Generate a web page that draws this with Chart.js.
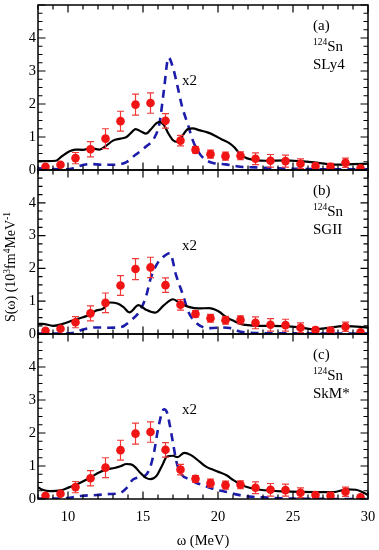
<!DOCTYPE html>
<html><head><meta charset="utf-8">
<script src="https://cdn.jsdelivr.net/npm/chart.js@4.4.1/dist/chart.umd.min.js"></script>
<style>
html,body{margin:0;padding:0;background:#fff;}
#wrap{position:relative;width:379px;height:550px;overflow:hidden;}
canvas{position:absolute;left:0;top:0;}
</style></head><body>
<div id="wrap">
<canvas id="ca" width="379" height="550"></canvas>
<canvas id="cb" width="379" height="550"></canvas>
<canvas id="cc" width="379" height="550"></canvas>
</div>
<script>
// ---- data ----
const xTicks = [10, 15, 20, 25, 30];
const yTicks = [0, 1, 2, 3, 4];
const panelTags = ['(a)', '(b)', '(c)'];
const modelNames = ['SLy4', 'SGII', 'SkM*'];
const massNumber = '124';
const nucleus = 'Sn';
const factorLabel = 'x2';
const xTitle = 'ω (MeV)';

// experimental strength (same in all panels)
const expE   = [8.5, 9.5, 10.5, 11.5, 12.5, 13.5, 14.5, 15.5, 16.5, 17.5, 18.5, 19.5, 20.5, 21.5, 22.5, 23.5, 24.5, 25.5, 26.5, 27.5, 28.5, 29.5];
const expS   = [0.10, 0.16, 0.36, 0.63, 0.95, 1.48, 1.98, 2.03, 1.49, 0.89, 0.61, 0.48, 0.42, 0.43, 0.34, 0.28, 0.27, 0.19, 0.12, 0.10, 0.22, 0.05];
const expErr = [0.05, 0.05, 0.17, 0.23, 0.30, 0.30, 0.32, 0.31, 0.22, 0.16, 0.10, 0.12, 0.12, 0.12, 0.18, 0.19, 0.18, 0.15, 0.08, 0.10, 0.14, 0.04];

// (a) SLy4
const aSolidE = [8.0, 8.6, 9.2, 9.6, 10.1, 10.5, 11.0, 11.5, 12.1, 12.5, 13.0, 13.5, 13.9, 14.3, 14.5, 14.9, 15.2, 15.5, 15.9, 16.1, 16.4, 16.7, 17.0, 17.3, 17.6, 18.0, 18.3, 18.8, 19.3, 19.8, 20.2, 20.8, 21.1, 21.5, 21.9, 22.5, 23.2, 24.5, 25.4, 26.4, 27.3, 28.2, 29.0, 30.0];
const aSolidS = [0.27, 0.27, 0.28, 0.42, 0.57, 0.62, 0.61, 0.66, 0.62, 0.72, 0.89, 0.95, 1.00, 1.17, 1.24, 1.16, 1.10, 1.22, 1.42, 1.46, 1.36, 1.10, 0.90, 0.85, 1.02, 1.24, 1.26, 1.20, 1.14, 1.04, 0.94, 0.80, 0.68, 0.47, 0.36, 0.30, 0.28, 0.29, 0.27, 0.23, 0.18, 0.16, 0.18, 0.19];
const aDashE  = [8.0, 9.0, 10.0, 10.5, 11.0, 11.5, 12.3, 13.2, 13.9, 14.5, 15.2, 15.75, 16.1, 16.4, 16.7, 17.0, 17.3, 17.6, 18.0, 18.3, 18.75, 19.1, 19.6, 20.5, 21.5, 22.5, 24.0, 26.0, 28.0, 30.0];
const aDashS  = [0.05, 0.03, 0.02, 0.08, 0.15, 0.18, 0.16, 0.16, 0.24, 0.46, 0.71, 0.97, 1.42, 2.44, 3.41, 3.10, 2.54, 1.93, 1.37, 0.92, 0.51, 0.33, 0.22, 0.17, 0.10, 0.08, 0.05, 0.03, 0.02, 0.02];

// (b) SGII
const bSolidE = [8.0, 8.3, 9.0, 9.6, 10.3, 11.0, 11.4, 11.9, 12.3, 12.8, 13.3, 13.7, 14.1, 14.7, 15.2, 15.8, 16.4, 17.0, 17.5, 18.1, 18.7, 19.4, 20.0, 20.6, 21.0, 21.5, 22.0, 22.8, 24.4, 25.5, 26.4, 27.2, 28.4, 29.5, 30.0];
const bSolidS = [0.31, 0.31, 0.25, 0.30, 0.41, 0.51, 0.58, 0.72, 0.76, 0.96, 0.93, 0.82, 0.66, 0.88, 0.74, 0.65, 0.88, 1.06, 0.93, 0.82, 0.78, 0.79, 0.70, 0.50, 0.41, 0.31, 0.27, 0.25, 0.24, 0.20, 0.14, 0.18, 0.24, 0.22, 0.19];
const bDashE  = [8.0, 9.5, 10.5, 11.0, 11.9, 12.75, 13.6, 14.1, 14.75, 15.2, 15.5, 15.9, 16.3, 16.8, 17.2, 17.7, 18.0, 18.5, 19.0, 19.5, 20.3, 20.8, 21.5, 22.5, 25.0, 30.0];
const bDashS  = [0.01, 0.01, 0.05, 0.14, 0.20, 0.19, 0.22, 0.38, 0.68, 1.14, 1.68, 2.11, 2.33, 2.46, 1.80, 1.14, 0.70, 0.36, 0.21, 0.18, 0.20, 0.18, 0.07, 0.03, 0.02, 0.01];

// (c) SkM*
const cSolidE = [8.0, 8.3, 8.8, 9.5, 10.1, 10.75, 11.4, 12.1, 12.5, 13.1, 13.5, 13.9, 14.2, 14.5, 14.8, 15.2, 15.5, 15.9, 16.3, 16.6, 17.0, 17.3, 17.75, 18.2, 18.75, 19.2, 19.6, 20.0, 20.6, 21.0, 21.5, 22.1, 22.8, 24.4, 26.6, 27.7, 28.6, 29.2, 29.7, 30.0];
const cSolidS = [0.36, 0.28, 0.24, 0.26, 0.36, 0.48, 0.63, 0.81, 0.89, 0.94, 0.99, 1.06, 1.05, 0.96, 0.80, 0.64, 0.60, 0.70, 1.04, 1.29, 1.31, 1.27, 1.40, 1.33, 1.14, 0.98, 0.90, 0.83, 0.71, 0.58, 0.44, 0.34, 0.28, 0.23, 0.21, 0.21, 0.29, 0.28, 0.19, 0.12];
const cDashE  = [8.0, 9.5, 10.1, 11.0, 11.9, 12.75, 13.4, 13.9, 14.3, 14.75, 15.2, 15.5, 15.75, 16.0, 16.4, 16.6, 16.8, 17.0, 17.25, 17.6, 18.1, 18.5, 19.1, 19.6, 20.1, 20.6, 21.2, 21.9, 23.0, 25.0, 30.0];
const cDashS  = [0.01, 0.01, 0.04, 0.10, 0.12, 0.15, 0.17, 0.33, 0.58, 0.66, 0.73, 0.99, 1.45, 2.11, 2.72, 2.62, 2.21, 1.70, 1.09, 0.73, 0.60, 0.50, 0.40, 0.32, 0.26, 0.21, 0.14, 0.08, 0.05, 0.01, 0.00];

// ---- styling ----
const FONT = "'Liberation Serif', 'Times New Roman', serif";
Chart.defaults.font.family = FONT;
Chart.defaults.color = '#000';
const RED = '#f01414';
const BLUE = '#1c1caa';

function pts(xs, ys) { return xs.map((x, i) => ({x: x, y: ys[i]})); }

const frameTicks = {
  id: 'frameTicks',
  afterDatasetsDraw(chart) {
    const {ctx, chartArea: a, scales: {x, y}} = chart;
    ctx.save();
    ctx.strokeStyle = '#000';
    ctx.lineWidth = 1.2;
    ctx.beginPath();
    for (let v = 8; v <= 30; v += 1) {
      const px = x.getPixelForValue(v);
      const L = (v % 5 === 0) ? 7.5 : 4.5;
      ctx.moveTo(px, a.bottom); ctx.lineTo(px, a.bottom - L);
      ctx.moveTo(px, a.top); ctx.lineTo(px, a.top + L);
    }
    for (let k = 0; k <= 20; k++) {
      const py = y.getPixelForValue(k * 0.25);
      const L = (k % 4 === 0) ? 7.5 : 4.5;
      ctx.moveTo(a.left, py); ctx.lineTo(a.left + L, py);
      ctx.moveTo(a.right, py); ctx.lineTo(a.right - L, py);
    }
    ctx.stroke();
    ctx.lineWidth = 1.5;
    ctx.strokeRect(a.left, a.top, a.right - a.left, a.bottom - a.top);
    ctx.restore();
  }
};

const errorBars = {
  id: 'errorBars',
  beforeDatasetDraw(chart, args) {
    if (args.index !== 0) return;
    const {ctx, scales: {x, y}} = chart;
    ctx.save();
    ctx.strokeStyle = '#f03a3a';
    ctx.lineWidth = 1.2;
    ctx.beginPath();
    expE.forEach((e, i) => {
      const px = x.getPixelForValue(e);
      const pTop = y.getPixelForValue(expS[i] + expErr[i]);
      const pBot = y.getPixelForValue(Math.max(0, expS[i] - expErr[i]));
      ctx.moveTo(px, pTop); ctx.lineTo(px, pBot);
      ctx.moveTo(px - 3.5, pTop); ctx.lineTo(px + 3.5, pTop);
      ctx.moveTo(px - 3.5, pBot); ctx.lineTo(px + 3.5, pBot);
    });
    ctx.stroke();
    ctx.restore();
  }
};

const panelText = {
  id: 'panelText',
  afterDraw(chart) {
    const o = chart.options.plugins.panelText;
    const {ctx, chartArea: a} = chart;
    ctx.save();
    ctx.fillStyle = '#000';
    ctx.textBaseline = 'alphabetic';
    ctx.textAlign = 'left';
    const lx = 313;
    ctx.font = '15px ' + FONT;
    ctx.fillText(o.tag, lx, a.top + 25);
    ctx.font = '9.5px ' + FONT;
    ctx.fillText(massNumber, lx, a.top + 40);
    const w = ctx.measureText(massNumber).width;
    ctx.font = '15px ' + FONT;
    ctx.fillText(nucleus, lx + w, a.top + 46);
    ctx.fillText(o.model, lx, a.top + 63.5);
    ctx.fillText(factorLabel, 182, a.top + 80);
    if (o.yTitle) {
      const segs = [['S(ω) (10', 0], ['3', 1], ['fm', 0], ['4', 1], ['MeV', 0], ['-1', 1]];
      const fN = '14px ' + FONT, fS = '9.5px ' + FONT;
      let total = 0;
      segs.forEach(s => { ctx.font = s[1] ? fS : fN; total += ctx.measureText(s[0]).width; });
      ctx.translate(15, 267);
      ctx.rotate(-Math.PI / 2);
      let cx = -total / 2;
      segs.forEach(s => {
        ctx.font = s[1] ? fS : fN;
        ctx.fillText(s[0], cx, s[1] ? -5 : 0);
        cx += ctx.measureText(s[0]).width;
      });
    }
    ctx.restore();
  }
};

function makePanel(id, padTop, padBottom, sE, sS, dE, dS, idx, isBottom) {
  return new Chart(document.getElementById(id), {
    type: 'scatter',
    data: {
      datasets: [
        {type: 'scatter', data: pts(expE, expS), pointRadius: 4.3, pointBackgroundColor: RED, pointBorderColor: RED, pointBorderWidth: 0},
        {type: 'line', data: pts(sE, sS), borderColor: '#000', borderWidth: 2.2, pointRadius: 0, fill: false, cubicInterpolationMode: 'monotone'},
        {type: 'line', data: pts(dE, dS), borderColor: BLUE, borderWidth: 2.6, borderDash: [8, 6], pointRadius: 0, fill: false, cubicInterpolationMode: 'monotone'}
      ]
    },
    options: {
      responsive: false, animation: false, devicePixelRatio: 1, events: [],
      layout: {padding: {top: padTop, bottom: padBottom, left: 0, right: 11}},
      plugins: {
        legend: {display: false}, tooltip: {enabled: false},
        panelText: {tag: panelTags[idx], model: modelNames[idx], yTitle: idx === 1}
      },
      scales: {
        x: {
          type: 'linear', min: 8, max: 30, display: isBottom,
          grid: {display: false, drawTicks: false}, border: {display: false},
          afterBuildTicks: s => { s.ticks = xTicks.map(v => ({value: v})); },
          afterFit: s => { s.height = isBottom ? 51 : 0; s.paddingLeft = 0; s.paddingRight = 0; },
          ticks: {font: {size: 14.5, family: FONT}, color: '#000', padding: 9, maxRotation: 0, autoSkip: false},
          title: {display: true, text: xTitle, font: {size: 14.5, family: FONT}, color: '#000', padding: {top: 0, bottom: 0}}
        },
        y: {
          type: 'linear', min: 0, max: 5,
          grid: {display: false, drawTicks: false}, border: {display: false},
          afterBuildTicks: s => { s.ticks = yTicks.map(v => ({value: v})); },
          afterFit: s => { s.width = 38; s.paddingTop = 0; s.paddingBottom = 0; },
          ticks: {font: {size: 14.5, family: FONT}, color: '#000', padding: 2}
        }
      }
    },
    plugins: [errorBars, frameTicks, panelText]
  });
}

makePanel('ca', 5, 380, aSolidE, aSolidS, aDashE, aDashS, 0, false);
makePanel('cb', 170, 216, bSolidE, bSolidS, bDashE, bDashS, 1, false);
makePanel('cc', 334, 0, cSolidE, cSolidS, cDashE, cDashS, 2, true);
</script>
</body></html>
